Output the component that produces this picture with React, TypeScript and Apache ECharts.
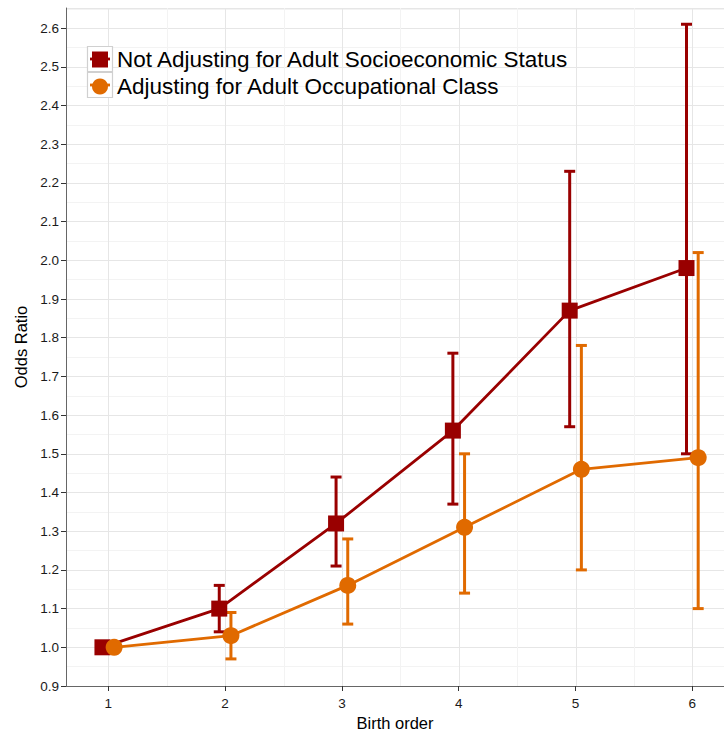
import React, { useEffect, useRef } from "react";
import * as echarts from "echarts";

const birthOrder = [1, 2, 3, 4, 5, 6];
const notAdjOR = [1.0, 1.1, 1.32, 1.56, 1.87, 1.98];
const notAdjLow = [1.0, 1.04, 1.21, 1.37, 1.57, 1.5];
const notAdjHigh = [1.0, 1.16, 1.44, 1.76, 2.23, 2.61];
const adjOR = [1.0, 1.03, 1.16, 1.31, 1.46, 1.49];
const adjLow = [1.0, 0.97, 1.06, 1.14, 1.2, 1.1];
const adjHigh = [1.0, 1.09, 1.28, 1.5, 1.78, 2.02];
const xMinorGrid = [1.5, 2.5, 3.5, 4.5, 5.5];

const NAME_A = "Not Adjusting for Adult Socioeconomic Status";
const NAME_B = "Adjusting for Adult Occupational Class";
const RED = "#990000";
const ORANGE = "#E06A00";
const DODGE = 0.05;
const Y_MIN = 0.9;
const Y_MAX = 2.652;
const X_MIN = 0.638;
const X_MAX = 6.271;
const FONT = "'Liberation Sans', Arial, Helvetica, sans-serif";

function errorBars(color: string) {
  return (params: any, api: any) => {
    const x = api.value(0);
    const lo = api.coord([x, api.value(1)]);
    const hi = api.coord([x, api.value(2)]);
    const hw = 5.5;
    const style = { stroke: color, lineWidth: 3, lineCap: "butt" };
    return {
      type: "group",
      children: [
        { type: "line", shape: { x1: lo[0], y1: lo[1], x2: hi[0], y2: hi[1] }, style },
        { type: "line", shape: { x1: lo[0] - hw, y1: lo[1], x2: lo[0] + hw, y2: lo[1] }, style },
        { type: "line", shape: { x1: hi[0] - hw, y1: hi[1], x2: hi[0] + hw, y2: hi[1] }, style },
      ],
    };
  };
}

function vGrid(color: string) {
  return (params: any, api: any) => {
    const x = api.value(0);
    const a = api.coord([x, Y_MIN]);
    const b = api.coord([x, Y_MAX]);
    return {
      type: "line",
      shape: { x1: Math.round(a[0]) + 0.5, y1: a[1], x2: Math.round(b[0]) + 0.5, y2: b[1] },
      style: { stroke: color, lineWidth: 1 },
    };
  };
}

export default function App() {
  const ref = useRef<HTMLDivElement>(null);
  useEffect(() => {
    if (!ref.current) return;
    const chart = echarts.init(ref.current, undefined, { renderer: "svg" });
    chart.setOption({
      animation: false,
      backgroundColor: "#ffffff",
      textStyle: { fontFamily: FONT },
      grid: { left: 66, top: 8, right: 0, bottom: 45, containLabel: false, outerBoundsMode: "none" },
      xAxis: {
        type: "value",
        min: X_MIN,
        max: X_MAX,
        name: "Birth order",
        nameLocation: "middle",
        nameGap: 25,
        nameTextStyle: { fontSize: 16.5, color: "#000", fontFamily: FONT },
        axisLine: { show: true, lineStyle: { color: "#666", width: 1 } },
        axisTick: { show: true, length: 5, customValues: birthOrder, lineStyle: { color: "#333", width: 1 } },
        axisLabel: {
          customValues: birthOrder,
          fontSize: 13.5,
          color: "#1a1a1a",
          margin: 10,
          fontFamily: FONT,
        },
        splitLine: { show: false },
      },
      yAxis: {
        type: "value",
        min: Y_MIN,
        max: Y_MAX,
        interval: 0.1,
        name: "Odds Ratio",
        nameLocation: "middle",
        nameGap: 30,
        nameTextStyle: { fontSize: 16.5, color: "#000", fontFamily: FONT },
        axisLine: { show: true, lineStyle: { color: "#666", width: 1 } },
        axisTick: { show: true, length: 5, lineStyle: { color: "#333", width: 1 } },
        axisLabel: {
          fontSize: 13.5,
          color: "#1a1a1a",
          margin: 7,
          fontFamily: FONT,
          showMaxLabel: false,
          formatter: (v: number) => v.toFixed(1),
        },
        splitLine: { show: true, lineStyle: { color: "#e6e6e6", width: 1 } },
        minorTick: { show: false, splitNumber: 2 },
        minorSplitLine: { show: true, lineStyle: { color: "#f3f3f3", width: 1 } },
      },
      legend: {
        orient: "vertical",
        left: 92,
        top: 48,
        padding: 0,
        itemGap: 4,
        itemWidth: 16,
        itemHeight: 16,
        z: 10,
        textStyle: { fontSize: 22.5, color: "#000", lineHeight: 22, fontFamily: FONT, padding: [0, 0, 0, 4] },
        data: [
          { name: NAME_A, icon: "rect" },
          { name: NAME_B, icon: "circle" },
        ],
        selectedMode: false,
      },
      graphic: [
        { type: "line", z: 0, shape: { x1: 66, y1: 8.5, x2: 724, y2: 8.5 }, style: { stroke: "#999", lineWidth: 1 } },
        { type: "rect", z: 1, shape: { x: 87.5, y: 46.5, width: 25, height: 25 }, style: { fill: "#fff", stroke: "#d0d0d0", lineWidth: 1.2 } },
        { type: "rect", z: 1, shape: { x: 87.5, y: 72.5, width: 25, height: 25 }, style: { fill: "#fff", stroke: "#d0d0d0", lineWidth: 1.2 } },
        { type: "line", z: 2, shape: { x1: 90, y1: 59, x2: 110, y2: 59 }, style: { stroke: RED, lineWidth: 2.8 } },
        { type: "line", z: 2, shape: { x1: 90, y1: 85, x2: 110, y2: 85 }, style: { stroke: ORANGE, lineWidth: 2.8 } },
      ],
      series: [
        {
          type: "custom",
          name: "vgrid-major",
          silent: true,
          z: 0,
          clip: true,
          renderItem: vGrid("#e6e6e6"),
          data: birthOrder.map((x) => [x]),
        },
        {
          type: "custom",
          name: "vgrid-minor",
          silent: true,
          z: 0,
          clip: true,
          renderItem: vGrid("#f3f3f3"),
          data: xMinorGrid.map((x) => [x]),
        },
        {
          type: "custom",
          name: "eb-a",
          z: 2,
          renderItem: errorBars(RED),
          data: birthOrder.map((x, i) => [x - DODGE, notAdjLow[i], notAdjHigh[i]]),
        },
        {
          type: "custom",
          name: "eb-b",
          z: 2,
          renderItem: errorBars(ORANGE),
          data: birthOrder.map((x, i) => [x + DODGE, adjLow[i], adjHigh[i]]),
        },
        {
          type: "line",
          name: NAME_A,
          z: 3,
          data: birthOrder.map((x, i) => [x - DODGE, notAdjOR[i]]),
          symbol: "rect",
          symbolSize: 16,
          showSymbol: true,
          lineStyle: { color: RED, width: 2.8 },
          itemStyle: { color: RED },
        },
        {
          type: "line",
          name: NAME_B,
          z: 4,
          data: birthOrder.map((x, i) => [x + DODGE, adjOR[i]]),
          symbol: "circle",
          symbolSize: 17,
          showSymbol: true,
          lineStyle: { color: ORANGE, width: 2.8 },
          itemStyle: { color: ORANGE },
        },
      ],
    });
    return () => chart.dispose();
  }, []);
  return <div ref={ref} style={{ width: 724, height: 731, position: "absolute", left: 0, top: 0 }} />;
}
